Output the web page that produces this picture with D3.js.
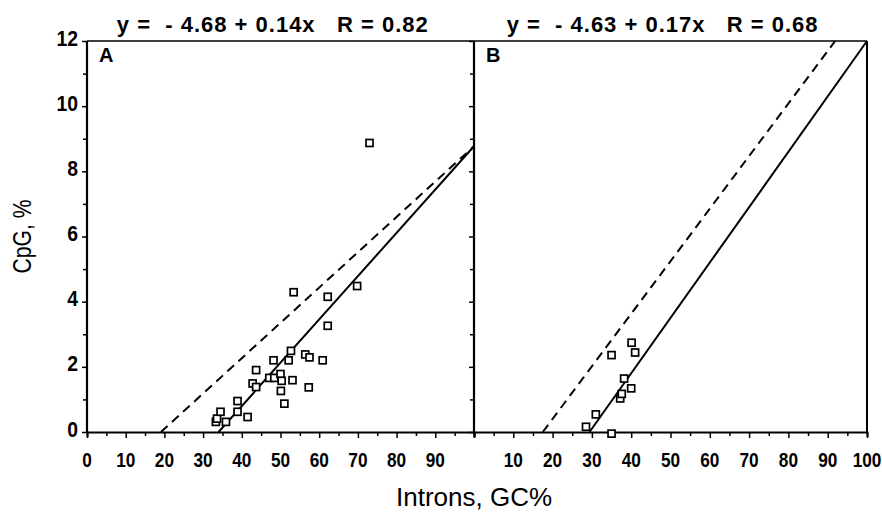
<!DOCTYPE html>
<html>
<head>
<meta charset="utf-8">
<script src="https://cdn.jsdelivr.net/npm/d3@7/dist/d3.min.js"></script>
<style>
  body { margin: 0; background: #fff; }
  svg { display: block; }
  .tick-label { font-family: "Liberation Sans", Arial, sans-serif; font-weight: bold; font-size: 21px; fill: #000; }
  .eq { font-family: "Liberation Sans", Arial, sans-serif; font-weight: bold; font-size: 22px; white-space: pre; letter-spacing: 1px; }
  .panel-label { font-family: "Liberation Sans", Arial, sans-serif; font-weight: bold; font-size: 20px; }
  .axis-title { font-family: "Liberation Sans", Arial, sans-serif; font-size: 26px; }
</style>
</head>
<body>
<svg width="882" height="512"></svg>
<script>
var svg = d3.select('svg');

// panel A: introns GC% vs CpG %
var introGcA = [33.3, 33.6, 34.5, 35.9, 38.9, 38.9, 41.5, 43.7, 42.8, 43.7, 47.1, 48.2, 48.4, 50.0, 50.3,
  50.1, 51.0, 52.1, 52.7, 53.1, 53.4, 56.4, 57.5, 57.3, 60.9, 62.2, 62.2, 69.8, 73.0];
var cpgA = [0.31, 0.41, 0.62, 0.31, 0.95, 0.62, 0.46, 1.90, 1.49, 1.38, 1.66, 2.20, 1.66, 1.78, 1.57,
  1.26, 0.87, 2.20, 2.49, 1.59, 4.29, 2.38, 2.29, 1.37, 2.20, 4.15, 3.26, 4.48, 8.87];

// panel B
var introGcB = [28.5, 31.0, 35.0, 35.0, 37.2, 37.6, 38.2, 40.0, 40.1, 41.0];
var cpgB = [0.16, 0.54, -0.05, 2.36, 1.03, 1.17, 1.64, 1.34, 2.74, 2.44];

// line ends [x, y]
var fitA = [[34, 0], [100, 8.77]];
var dashA = [[19.1, 0], [100, 8.77]];
var fitB = [[29.4, 0], [100, 12]];
var dashB = [[17.5, 0], [91.9, 12]];

var eqA = 'y =  - 4.68 + 0.14x   R = 0.82';
var eqB = 'y =  - 4.63 + 0.17x   R = 0.68';
var xTicksA = [0, 10, 20, 30, 40, 50, 60, 70, 80, 90];
var xTicksB = [10, 20, 30, 40, 50, 60, 70, 80, 90, 100];
var yTicks = [0, 2, 4, 6, 8, 10, 12];

var plotTop = 41, plotBottom = 432;
var xA = d3.scaleLinear().domain([0, 100]).range([87, 474]);
var xB = d3.scaleLinear().domain([0, 100]).range([474, 867]);
var y = d3.scaleLinear().domain([0, 12]).range([plotBottom, plotTop]);

var line = d3.line();

function drawPanel(x, gc, cpg, fit, dash, eq, label, tickVals, leftLabels) {
  var g = svg.append('g');
  // frame
  g.append('line').attr('x1', x(0)).attr('x2', x(100)).attr('y1', plotTop).attr('y2', plotTop)
    .attr('stroke', '#000').attr('stroke-width', 1.5);
  g.append('line').attr('x1', x(0)).attr('x2', x(0)).attr('y1', plotTop).attr('y2', plotBottom + 1)
    .attr('stroke', '#000').attr('stroke-width', 2.2);

  // x axis, tick every 5
  var xAxisG = g.append('g').attr('transform', 'translate(0,' + plotBottom + ')');
  xAxisG.call(d3.axisBottom(x).tickValues(d3.range(0, 101, 5)).tickSize(5).tickFormat(''));
  xAxisG.select('.domain').attr('stroke-width', 2);
  xAxisG.selectAll('.tick line').attr('stroke-width', 1.5)
    .attr('y2', d => d % 10 == 0 ? 6 : 4);
  // narrow bold digits
  g.selectAll('.xl').data(tickVals).enter().append('text')
    .attr('class', 'tick-label')
    .attr('transform', d => 'translate(' + x(d) + ',467) scale(0.82,1)')
    .attr('text-anchor', 'middle')
    .text(d => d);

  // y ticks on the left edge, every 1 unit
  var yAxisG = g.append('g').attr('transform', 'translate(' + x(0) + ',0)');
  yAxisG.call(d3.axisLeft(y).tickValues(d3.range(0, 13, 1)).tickSize(4).tickFormat(''));
  yAxisG.select('.domain').remove();
  yAxisG.selectAll('.tick line').attr('stroke-width', 1.5)
    .attr('x2', d => d % 2 == 0 ? -5 : -4);
  if (leftLabels) {
    g.selectAll('.yl').data(yTicks).enter().append('text')
      .attr('class', 'tick-label')
      .style('font-size', '22px')
      .attr('transform', d => 'translate(' + (x(0) - 9) + ',' + (y(d) + 4.5) + ') scale(0.88,1)')
      .attr('text-anchor', 'end')
      .text(d => d);
  }

  // lines
  g.append('path').attr('d', line(dash.map(p => [x(p[0]), y(p[1])])))
    .attr('fill', 'none').attr('stroke', '#000').attr('stroke-width', 2)
    .attr('stroke-dasharray', '9,6');
  g.append('path').attr('d', line(fit.map(p => [x(p[0]), y(p[1])])))
    .attr('fill', 'none').attr('stroke', '#000').attr('stroke-width', 2);

  // points
  g.selectAll('.pt').data(gc.map((d, i) => [d, cpg[i]])).enter().append('rect')
    .attr('x', d => x(d[0]) - 3.5)
    .attr('y', d => y(d[1]) - 3.5)
    .attr('width', 7)
    .attr('height', 7)
    .attr('fill', '#fff')
    .attr('stroke', '#000')
    .attr('stroke-width', 1.7);

  g.append('text').attr('class', 'eq')
    .attr('x', x(48)).attr('y', 32)
    .attr('text-anchor', 'middle')
    .text(eq);
  g.append('text').attr('class', 'panel-label')
    .attr('x', x(0) + 12).attr('y', 62)
    .text(label);
}

drawPanel(xA, introGcA, cpgA, fitA, dashA, eqA, 'A', xTicksA, true);
drawPanel(xB, introGcB, cpgB, fitB, dashB, eqB, 'B', xTicksB, false);

// right edge of panel B
svg.append('line').attr('x1', xB(100)).attr('x2', xB(100)).attr('y1', plotTop).attr('y2', plotBottom)
  .attr('stroke', '#000').attr('stroke-width', 2);

svg.append('text').attr('class', 'axis-title')
  .attr('x', xA(100)).attr('y', 506)
  .attr('text-anchor', 'middle')
  .text('Introns, GC%');
svg.append('text').attr('class', 'axis-title')
  .attr('transform', 'translate(31,' + y(6) + ') rotate(-90)')
  .attr('text-anchor', 'middle')
  .attr('textLength', 74)
  .attr('lengthAdjust', 'spacingAndGlyphs')
  .style('font-size', '25px')
  .text('CpG, %');
</script>
</body>
</html>
